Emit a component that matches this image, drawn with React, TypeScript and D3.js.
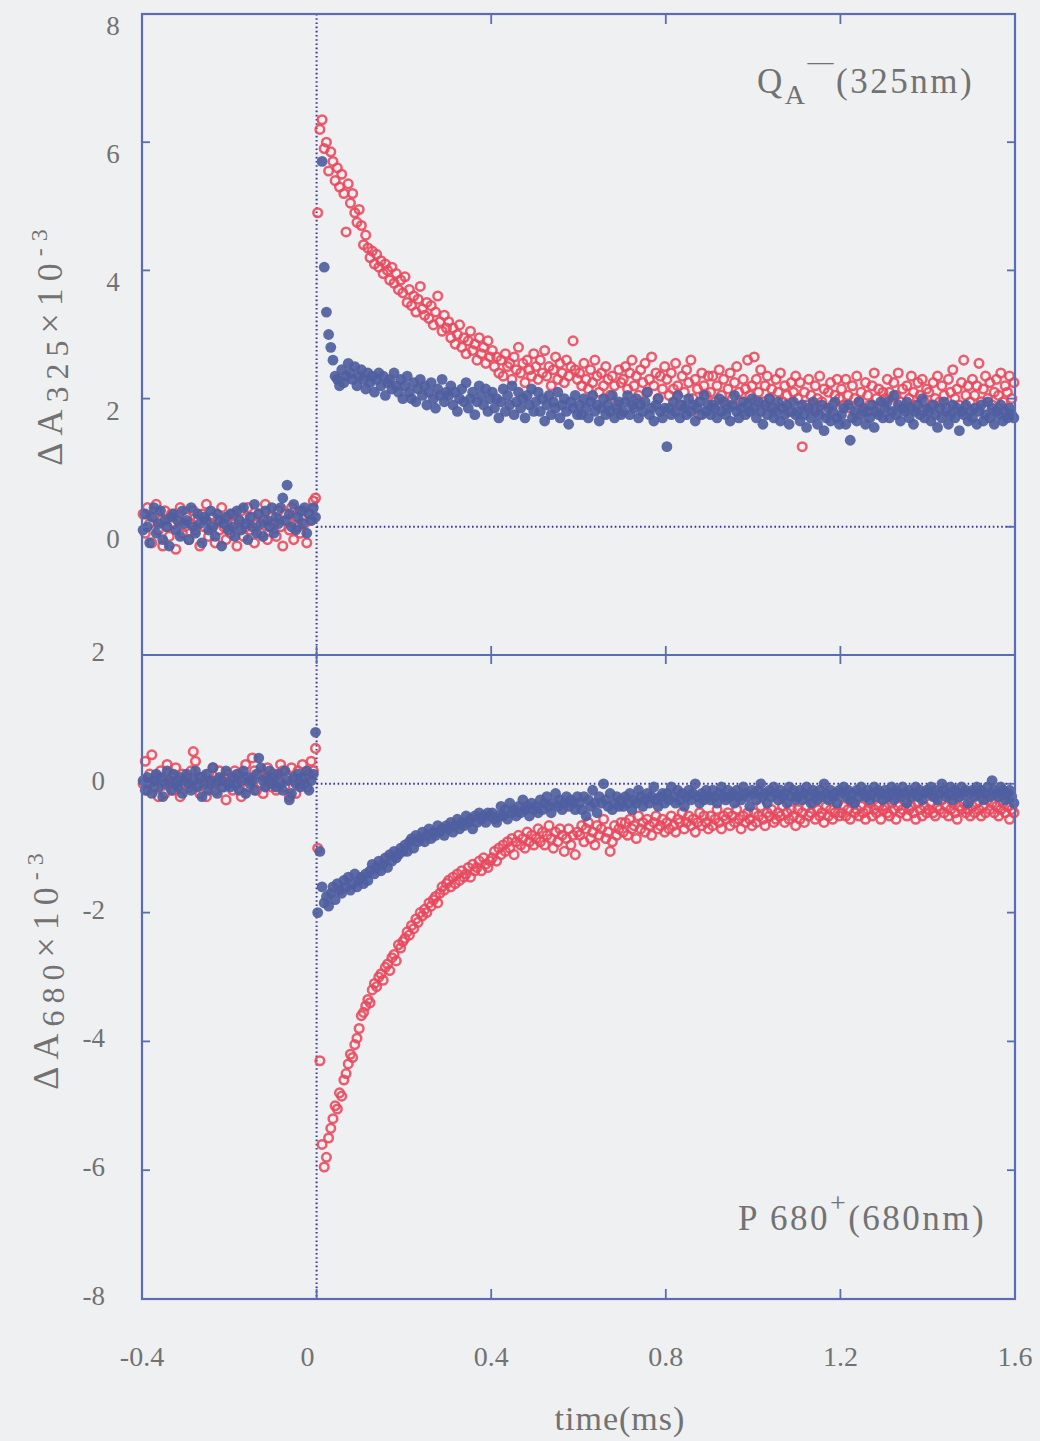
import React from "react";
import * as d3 from "d3";

// sampling time base (ms): 400 samples, 0.005 ms apart, from -0.3975 to 1.5975
const T_START = -0.3975;
const T_STEP = 0.005;
const N_SAMPLES = 400;

// Top panel: Q_A^- (325 nm), red open circles (rows of 0.1 ms)
const top325Red = [
  0.2, -0.1, 0.3, 0.05, -0.25, 0.15, 0.35, -0.05, 0.1, -0.3, 0.25, 0.0, -0.15, 0.2, 0.05, -0.35, 0.1, 0.3, -0.1, 0.0,
  0.15, -0.2, 0.05, 0.25, -0.05, 0.1, -0.3, 0.2, 0.0, 0.35, -0.15, 0.05, 0.15, -0.25, 0.1, -0.05, 0.3, 0.0, -0.2, 0.15,
  -0.1, 0.2, 0.05, -0.3, 0.1, 0.25, -0.15, 0.0, 0.3, -0.05, 0.15, -0.25, 0.05, 0.2, -0.1, 0.1, 0.35, -0.2, 0.0, 0.15,
  0.05, -0.15, 0.25, 0.0, -0.3, 0.2, 0.1, -0.05, 0.3, -0.2, 0.15, 0.0, -0.1, 0.25, 0.05, -0.25, 0.2, 0.1, 0.4, 0.45,
  4.9, 6.2, 6.35, 5.9, 6.0, 5.55, 5.85, 5.7, 5.4, 5.6, 5.3, 5.5, 5.2, 4.6, 5.35, 5.05, 5.2, 4.9, 4.75, 4.95,
  4.7, 4.4, 4.55, 4.35, 4.2, 4.3, 4.1, 4.25, 4.05, 4.15, 3.95, 4.1, 4.0, 3.85, 4.05, 3.8, 3.95, 3.7, 3.85, 3.65,
  3.9, 3.5, 3.7, 3.45, 3.6, 3.35, 3.55, 3.75, 3.4, 3.3, 3.5, 3.25, 3.45, 3.15, 3.35, 3.6, 3.2, 3.05, 3.3, 3.1,
  3.2, 2.95, 3.1, 2.85, 3.0, 3.15, 2.8, 2.95, 2.7, 2.9, 3.05, 2.75, 2.85, 2.6, 2.95, 2.7, 2.8, 2.55, 2.9, 2.65,
  2.75, 2.5, 2.65, 2.4, 2.6, 2.35, 2.7, 2.5, 2.55, 2.3, 2.65, 2.45, 2.8, 2.4, 2.55, 2.25, 2.6, 2.45, 2.35, 2.7,
  2.5, 2.3, 2.6, 2.4, 2.75, 2.35, 2.5, 2.2, 2.45, 2.65, 2.3, 2.55, 2.4, 2.25, 2.6, 2.35, 2.5, 2.9, 2.45, 2.3,
  2.4, 2.2, 2.55, 2.3, 2.15, 2.45, 2.25, 2.6, 2.35, 2.1, 2.4, 2.2, 2.5, 2.3, 2.05, 2.35, 2.2, 1.9, 2.45, 2.25,
  2.3, 2.5, 2.15, 2.4, 2.6, 2.2, 2.35, 2.05, 2.45, 2.25, 2.55, 2.1, 2.3, 2.65, 2.2, 2.4, 2.0, 2.35, 2.15, 2.5,
  2.3, 2.05, 2.4, 2.15, 2.55, 2.2, 1.9, 2.35, 2.1, 2.45, 2.25, 2.6, 2.0, 2.3, 2.15, 1.75, 2.4, 2.2, 2.05, 2.35,
  2.1, 2.35, 1.95, 2.2, 2.45, 2.05, 2.3, 1.9, 2.15, 2.4, 2.0, 2.25, 2.5, 2.1, 1.95, 2.3, 2.15, 2.6, 2.05, 2.2,
  2.65, 2.3, 2.1, 2.45, 1.95, 2.2, 2.35, 2.0, 2.15, 1.85, 2.3, 2.1, 2.4, 1.95, 2.2, 2.05, 1.8, 2.25, 2.1, 2.35,
  2.0, 2.25, 1.25, 2.1, 1.9, 2.3, 2.05, 1.85, 2.2, 2.0, 2.35, 1.95, 2.15, 1.8, 2.1, 2.25, 1.9, 2.05, 2.3, 2.0,
  2.15, 1.9, 2.3, 2.05, 1.85, 2.2, 2.0, 2.35, 1.95, 2.1, 1.8, 2.25, 2.05, 1.9, 2.2, 2.4, 2.0, 2.15, 1.85, 2.1,
  2.0, 2.3, 2.1, 1.9, 2.25, 2.05, 2.4, 1.95, 2.15, 1.85, 2.2, 2.0, 2.35, 2.1, 1.9, 2.25, 2.05, 2.3, 1.95, 2.15,
  2.1, 1.9, 2.25, 2.0, 2.35, 1.95, 2.2, 2.05, 1.85, 2.3, 2.1, 2.45, 2.0, 2.15, 1.9, 2.25, 2.6, 2.05, 2.2, 1.95,
  2.3, 2.05, 2.2, 2.55, 1.95, 2.15, 2.35, 2.0, 2.25, 1.9, 2.1, 2.3, 2.05, 2.4, 1.95, 2.2, 2.1, 2.35, 2.0, 2.25,
];

// Top panel: blue filled circles (null = no sample)
const top325Blue: (number | null)[] = [
  -0.05, 0.2, 0.0, -0.25, 0.15, 0.3, -0.1, 0.05, 0.25, -0.2, 0.1, 0.0, -0.3, 0.15, 0.2, -0.05, 0.1, -0.15, 0.25, 0.05,
  0.1, -0.2, 0.3, 0.0, -0.1, 0.2, 0.05, -0.25, 0.15, 0.1, -0.05, 0.25, 0.0, -0.15, 0.2, 0.1, -0.3, 0.05, 0.15, -0.05,
  0.2, 0.0, -0.15, 0.25, 0.1, -0.05, 0.3, 0.05, -0.2, 0.15, 0.0, 0.35, -0.1, 0.2, 0.05, -0.15, 0.25, 0.1, 0.0, 0.3,
  -0.1, 0.15, 0.05, 0.3, 0.45, 0.1, 0.65, 0.2, 0.0, 0.35, -0.05, 0.15, 0.25, 0.05, 0.3, -0.1, 0.2, 0.1, 0.3, 0.15,
  null, null, 5.7, 4.05, 3.35, 3.0, 2.8, 2.6, 2.35, 2.3, 2.2, 2.45, 2.25, 2.35, 2.55, 2.4, 2.3, 2.5, 2.2, 2.35,
  2.45, 2.3, 2.15, 2.4, 2.25, 2.35, 2.1, 2.3, 2.4, 2.2, 2.35, 2.05, 2.25, 2.3, 2.15, 2.4, 2.2, 2.1, 2.3, 2.0,
  2.2, 2.35, 2.1, 2.0, 2.25, 1.95, 2.15, 2.3, 2.05, 2.2, 1.9, 2.1, 2.25, 2.0, 1.85, 2.15, 2.05, 2.3, 1.95, 2.1,
  2.05, 2.2, 1.9, 2.1, 1.8, 2.0, 2.15, 1.95, 2.25, 1.85, 2.0, 2.1, 1.75, 1.95, 2.2, 2.05, 1.9, 2.15, 1.8, 2.0,
  2.1, 1.85, 2.0, 1.7, 1.95, 2.15, 1.8, 2.05, 1.9, 2.2, 1.75, 1.95, 2.1, 1.85, 2.0, 1.7, 2.05, 1.9, 2.15, 1.8,
  1.95, 2.1, 1.8, 2.0, 1.65, 1.9, 2.05, 1.75, 1.95, 1.85, 2.1, 1.7, 1.9, 2.0, 1.8, 1.6, 1.95, 1.85, 2.05, 1.75,
  1.9, 1.75, 2.0, 1.85, 1.7, 1.95, 2.05, 1.8, 1.9, 1.65, 1.85, 2.0, 1.75, 1.9, 1.8, 2.05, 1.7, 1.85, 1.95, 1.75,
  1.8, 1.95, 2.05, 1.75, 1.9, 1.85, 2.0, 1.7, 1.9, 1.8, 1.95, 2.1, 1.75, 1.85, 1.65, 1.9, 2.0, 1.8, 1.7, 1.85,
  1.25, 1.85, 1.75, 1.95, 1.8, 2.05, 1.7, 1.9, 1.85, 1.75, 2.0, 1.8, 1.9, 1.65, 1.85, 1.95, 1.75, 2.05, 1.8, 1.9,
  1.75, 1.9, 1.85, 1.7, 2.0, 1.8, 1.95, 1.75, 1.85, 1.65, 1.9, 2.05, 1.8, 1.7, 1.85, 1.95, 1.75, 1.9, 1.8, 2.0,
  1.85, 1.7, 1.95, 1.8, 1.6, 1.9, 1.75, 2.0, 1.85, 1.7, 1.8, 1.95, 1.65, 1.85, 1.75, 1.9, 1.6, 1.8, 1.95, 1.75,
  1.8, 1.65, 1.9, 1.75, 1.55, 1.85, 1.7, 1.95, 1.8, 1.6, 1.75, 1.9, 1.5, 1.7, 1.85, 1.65, 1.8, 1.95, 1.7, 1.6,
  1.75, 1.85, 1.6, 1.9, 1.35, 1.7, 1.8, 1.65, 1.95, 1.75, 1.85, 1.6, 1.8, 1.7, 1.9, 1.55, 1.8, 1.75, 1.95, 1.7,
  1.85, 1.95, 1.7, 1.8, 2.05, 1.75, 1.9, 1.65, 1.85, 1.8, 1.95, 1.7, 1.85, 1.6, 1.8, 1.9, 1.75, 2.0, 1.7, 1.85,
  1.8, 1.65, 1.9, 1.75, 1.55, 1.85, 1.7, 1.95, 1.8, 1.6, 1.75, 1.9, 1.7, 1.85, 1.5, 1.8, 1.75, 1.9, 1.65, 1.8,
  1.7, 1.85, 1.6, 1.8, 1.9, 1.65, 1.75, 1.95, 1.7, 1.85, 1.6, 1.8, 1.75, 1.9, 1.65, 1.8, 1.7, 1.85, 1.75, 1.7,
];

// Bottom panel: P680+ (680 nm), red open circles
const bot680Red = [
  0.0, 0.35, -0.1, 0.15, 0.45, -0.05, 0.1, -0.2, 0.2, 0.05, -0.15, 0.3, 0.0, 0.1, -0.1, 0.25, 0.05, -0.2, 0.15, 0.0,
  0.1, -0.05, 0.2, 0.5, 0.35, 0.0, -0.15, 0.1, 0.05, -0.2, 0.15, 0.0, 0.25, -0.1, 0.05, 0.2, -0.05, 0.1, -0.25, 0.15,
  0.05, -0.1, 0.2, 0.0, 0.15, -0.2, 0.1, 0.3, -0.05, 0.05, 0.4, 0.2, -0.1, 0.15, 0.0, -0.15, 0.1, 0.25, 0.05, -0.05,
  0.15, -0.1, 0.05, 0.3, 0.2, -0.05, 0.1, -0.2, 0.25, 0.05, -0.15, 0.2, 0.0, 0.3, 0.1, -0.05, 0.15, 0.35, 0.2, 0.55,
  -1.0, -4.3, -5.6, -5.95, -5.8, -5.5, -5.35, -5.2, -5.0, -5.05, -4.8, -4.85, -4.6, -4.5, -4.35, -4.2, -4.25, -4.05, -3.95, -3.8,
  -3.6, -3.55, -3.45, -3.35, -3.4, -3.2, -3.1, -3.15, -3.0, -2.95, -3.05, -2.85, -2.8, -2.9, -2.7, -2.65, -2.75, -2.5, -2.55, -2.45,
  -2.4, -2.3, -2.35, -2.2, -2.25, -2.1, -2.15, -2.0, -2.05, -1.95, -2.0, -1.85, -1.9, -1.8, -1.75, -1.85, -1.7, -1.6, -1.65, -1.55,
  -1.5, -1.6, -1.45, -1.55, -1.4, -1.5, -1.35, -1.45, -1.4, -1.3, -1.45, -1.25, -1.35, -1.3, -1.2, -1.35, -1.15, -1.25, -1.3, -1.2,
  -1.15, -1.05, -1.2, -1.0, -1.1, -0.95, -1.05, -0.9, -1.0, -0.85, -1.1, -0.9, -0.8, -0.95, -0.85, -1.0, -0.75, -0.9, -0.8, -0.95,
  -0.85, -0.7, -0.9, -0.75, -0.95, -0.8, -0.65, -0.85, -1.0, -0.75, -0.9, -0.7, -0.8, -1.05, -0.85, -0.7, -0.95, -0.8, -1.1, -0.75,
  -0.8, -0.65, -0.9, -0.7, -0.6, -0.85, -0.75, -0.95, -0.65, -0.8, -0.7, -0.55, -0.85, -0.75, -1.05, -0.9, -0.65, -0.8, -0.7, -0.6,
  -0.75, -0.6, -0.8, -0.55, -0.7, -0.65, -0.85, -0.5, -0.7, -0.6, -0.75, -0.55, -0.65, -0.8, -0.6, -0.5, -0.7, -0.65, -0.55, -0.75,
  -0.6, -0.7, -0.5, -0.65, -0.75, -0.55, -0.6, -0.45, -0.7, -0.6, -0.5, -0.65, -0.55, -0.75, -0.6, -0.45, -0.65, -0.5, -0.6, -0.7,
  -0.5, -0.65, -0.55, -0.4, -0.6, -0.7, -0.5, -0.55, -0.45, -0.65, -0.5, -0.6, -0.4, -0.55, -0.7, -0.5, -0.6, -0.45, -0.55, -0.65,
  -0.45, -0.6, -0.5, -0.35, -0.55, -0.65, -0.45, -0.5, -0.4, -0.6, -0.55, -0.45, -0.5, -0.35, -0.6, -0.45, -0.55, -0.4, -0.5, -0.65,
  -0.4, -0.55, -0.45, -0.6, -0.35, -0.5, -0.45, -0.3, -0.55, -0.4, -0.5, -0.45, -0.6, -0.35, -0.5, -0.4, -0.55, -0.45, -0.3, -0.5,
  -0.45, -0.35, -0.5, -0.4, -0.55, -0.3, -0.45, -0.4, -0.5, -0.35, -0.45, -0.55, -0.4, -0.3, -0.5, -0.4, -0.45, -0.35, -0.55, -0.4,
  -0.35, -0.45, -0.5, -0.3, -0.4, -0.55, -0.35, -0.45, -0.4, -0.25, -0.5, -0.4, -0.35, -0.45, -0.55, -0.3, -0.4, -0.5, -0.35, -0.45,
  -0.4, -0.3, -0.45, -0.5, -0.35, -0.4, -0.25, -0.45, -0.35, -0.5, -0.4, -0.3, -0.45, -0.55, -0.35, -0.4, -0.3, -0.45, -0.4, -0.5,
  -0.35, -0.45, -0.3, -0.4, -0.5, -0.35, -0.45, -0.25, -0.4, -0.3, -0.45, -0.35, -0.5, -0.4, -0.3, -0.45, -0.35, -0.55, -0.4, -0.45,
];

// Bottom panel: blue filled circles
const bot680Blue = [
  0.05, -0.1, 0.1, 0.0, -0.15, 0.05, 0.15, -0.05, 0.1, -0.2, 0.0, 0.2, 0.05, -0.1, 0.15, 0.0, -0.05, 0.1, -0.15, 0.05,
  0.15, 0.0, -0.1, 0.05, 0.2, -0.05, 0.1, -0.2, 0.0, 0.15, -0.1, 0.05, 0.25, 0.0, -0.15, 0.1, 0.05, -0.05, 0.2, 0.0,
  -0.05, 0.1, 0.0, 0.15, -0.1, 0.05, 0.2, -0.15, 0.1, 0.0, 0.05, -0.1, 0.15, 0.4, 0.25, 0.05, -0.05, 0.1, 0.2, 0.0,
  0.1, -0.05, 0.15, 0.0, -0.1, 0.2, 0.05, -0.25, -0.15, 0.1, 0.0, 0.15, -0.05, 0.1, 0.0, 0.2, -0.1, 0.05, 0.15, 0.8,
  -2.0, -1.05, -1.6, -1.85, -1.75, -1.9, -1.7, -1.6, -1.8, -1.55, -1.65, -1.7, -1.5, -1.6, -1.45, -1.65, -1.55, -1.4, -1.6, -1.5,
  -1.45, -1.55, -1.4, -1.5, -1.35, -1.25, -1.4, -1.3, -1.2, -1.35, -1.25, -1.15, -1.3, -1.1, -1.2, -1.05, -1.15, -1.1, -1.0, -1.05,
  -0.95, -1.05, -0.9, -0.85, -1.0, -0.8, -0.9, -0.85, -0.75, -0.9, -0.8, -0.7, -0.85, -0.75, -0.8, -0.65, -0.75, -0.7, -0.8, -0.65,
  -0.7, -0.6, -0.75, -0.65, -0.55, -0.7, -0.6, -0.65, -0.5, -0.6, -0.55, -0.7, -0.5, -0.6, -0.45, -0.55, -0.5, -0.6, -0.45, -0.5,
  -0.45, -0.55, -0.6, -0.5, -0.35, -0.5, -0.4, -0.55, -0.3, -0.45, -0.4, -0.5, -0.35, -0.45, -0.25, -0.4, -0.35, -0.5, -0.3, -0.4,
  -0.35, -0.45, -0.25, -0.4, -0.3, -0.2, -0.35, -0.45, -0.3, -0.15, -0.35, -0.25, -0.4, -0.3, -0.2, -0.35, -0.25, -0.3, -0.4, -0.2,
  -0.3, -0.4, -0.2, -0.5, -0.25, -0.35, -0.1, -0.3, -0.45, -0.2, -0.3, 0.0, -0.25, -0.35, -0.15, -0.4, -0.3, -0.2, -0.35, -0.25,
  -0.35, -0.2, -0.3, -0.15, -0.4, -0.25, -0.3, -0.1, -0.2, -0.35, -0.25, -0.15, -0.3, -0.2, -0.05, -0.25, -0.35, -0.2, -0.15, -0.3,
  -0.15, -0.25, -0.05, -0.2, -0.3, -0.1, -0.25, -0.15, -0.35, -0.2, -0.1, -0.25, -0.15, 0.0, -0.2, -0.3, -0.15, -0.25, -0.1, -0.2,
  -0.25, -0.1, -0.2, -0.3, -0.15, -0.05, -0.2, -0.25, -0.1, -0.2, -0.15, -0.3, -0.1, -0.2, -0.25, -0.05, -0.15, -0.2, -0.35, -0.1,
  -0.15, -0.25, -0.1, 0.0, -0.2, -0.15, -0.3, -0.1, -0.2, -0.05, -0.15, -0.25, -0.1, -0.2, -0.15, -0.3, -0.05, -0.2, -0.1, -0.25,
  -0.2, -0.1, -0.25, -0.15, -0.05, -0.2, -0.3, -0.1, -0.15, -0.25, -0.1, -0.2, 0.0, -0.15, -0.25, -0.1, -0.2, -0.15, -0.3, -0.1,
  -0.15, -0.05, -0.2, -0.1, -0.25, -0.15, -0.3, -0.1, -0.2, -0.05, -0.15, -0.2, -0.1, -0.25, -0.15, -0.05, -0.2, -0.1, -0.15, -0.25,
  -0.1, -0.2, -0.15, -0.05, -0.25, -0.1, -0.15, -0.2, -0.05, -0.15, -0.3, -0.1, -0.2, -0.15, -0.05, -0.2, -0.1, -0.25, -0.15, -0.1,
  -0.15, -0.05, -0.2, -0.1, -0.25, -0.15, 0.0, -0.1, -0.2, -0.15, -0.05, -0.25, -0.1, -0.15, -0.2, -0.05, -0.15, -0.1, -0.3, -0.15,
  -0.1, -0.2, -0.05, -0.15, -0.1, -0.25, -0.15, -0.05, -0.2, 0.05, -0.1, -0.15, -0.2, -0.05, -0.1, -0.25, -0.15, -0.1, -0.2, -0.3,
];

const xTickValues = [-0.4, 0, 0.4, 0.8, 1.2, 1.6];
const xTickLabels = ["-0.4", "0", "0.4", "0.8", "1.2", "1.6"];
const topYTicks = [8, 6, 4, 2, 0];
const botYTicks = [2, 0, -2, -4, -6, -8];

const W = 1040;
const H = 1441;
const FRAME = "#5a6cb2";
const DOT = "#3b3596";
const RED = "#e8485c";
const BLUE = "#4f5e9f";
const TXT = "#727272";
const SERIF = "'Liberation Serif', 'DejaVu Serif', serif";

export default function App() {
  const x = d3.scaleLinear().domain([-0.4, 1.6]).range([142, 1015]);
  const yT = d3.scaleLinear().domain([-2, 8]).range([655, 14]);
  const yB = d3.scaleLinear().domain([-8, 2]).range([1299, 655]);
  const times = d3.range(N_SAMPLES).map((i) => T_START + i * T_STEP);

  const left = x(-0.4);
  const right = x(1.6);
  const top = yT(8);
  const mid = yT(-2);
  const bottom = yB(-8);

  const inner = [0.4, 0.8, 1.2];

  const redPts = (vals: (number | null)[], ys: d3.ScaleLinear<number, number>) =>
    vals.map((v, i) =>
      v == null || i >= times.length ? null : (
        <circle key={"r" + i} cx={x(times[i])} cy={ys(v)} r={4.3} fill="none" stroke={RED} strokeWidth={2.5} opacity={0.88} />
      )
    );
  const bluePts = (vals: (number | null)[], ys: d3.ScaleLinear<number, number>) =>
    vals.map((v, i) =>
      v == null || i >= times.length ? null : (
        <circle key={"b" + i} cx={x(times[i])} cy={ys(v)} r={5.4} fill={BLUE} opacity={0.92} />
      )
    );

  return (
    <svg width={W} height={H} style={{ position: "absolute", left: 0, top: 0 }} fontFamily={SERIF}>
      <rect x={0} y={0} width={W} height={H} fill="#eff0f2" />

      {/* dotted reference lines */}
      <line x1={x(0)} x2={x(0)} y1={top} y2={bottom} stroke={DOT} strokeWidth={2} strokeDasharray="1.6,2.6" />
      <line x1={x(0)} x2={right} y1={yT(0)} y2={yT(0)} stroke={DOT} strokeWidth={2} strokeDasharray="1.6,2.6" />
      <line x1={x(0)} x2={right} y1={yB(0)} y2={yB(0)} stroke={DOT} strokeWidth={2} strokeDasharray="1.6,2.6" />

      {/* data */}
      <g>{redPts(top325Red, yT)}</g>
      <g>{bluePts(top325Blue, yT)}</g>
      <g>{redPts(bot680Red, yB)}</g>
      <g>{bluePts(bot680Blue, yB)}</g>

      {/* frame */}
      <rect x={left} y={top} width={right - left} height={bottom - top} fill="none" stroke={FRAME} strokeWidth={2.2} />
      <line x1={left} x2={right} y1={mid} y2={mid} stroke={FRAME} strokeWidth={2.2} />

      {/* x ticks */}
      {inner.map((v) => (
        <g key={"xt" + v} stroke={FRAME} strokeWidth={1.8}>
          <line x1={x(v)} x2={x(v)} y1={top} y2={top + 10} />
          <line x1={x(v)} x2={x(v)} y1={mid - 9} y2={mid + 9} />
          <line x1={x(v)} x2={x(v)} y1={bottom} y2={bottom - 10} />
        </g>
      ))}
      <line x1={x(0)} x2={x(0)} y1={mid - 9} y2={mid + 9} stroke={FRAME} strokeWidth={1.8} />
      <line x1={x(0)} x2={x(0)} y1={bottom} y2={bottom - 10} stroke={FRAME} strokeWidth={1.8} />

      {/* y ticks */}
      {topYTicks.slice(1).map((v) => (
        <g key={"yt" + v} stroke={FRAME} strokeWidth={1.8}>
          <line x1={left} x2={left + 8} y1={yT(v)} y2={yT(v)} />
          <line x1={right} x2={right - 8} y1={yT(v)} y2={yT(v)} />
        </g>
      ))}
      {botYTicks.slice(1, -1).map((v) => (
        <g key={"yb" + v} stroke={FRAME} strokeWidth={1.8}>
          <line x1={left} x2={left + 8} y1={yB(v)} y2={yB(v)} />
          <line x1={right} x2={right - 8} y1={yB(v)} y2={yB(v)} />
        </g>
      ))}

      {/* y tick labels */}
      {topYTicks.map((v) => (
        <text key={"tl" + v} x={113} y={yT(v) + 12} fill={TXT} fontSize={27} textAnchor="middle" dominantBaseline="central">
          {String(v)}
        </text>
      ))}
      {botYTicks.map((v) => (
        <text key={"bl" + v} x={105} y={yB(v) - 3} fill={TXT} fontSize={27} textAnchor="end" dominantBaseline="central">
          {String(v)}
        </text>
      ))}

      {/* x tick labels */}
      {xTickValues.map((v, i) => (
        <text key={"xl" + v} x={x(v) + (v === 0 ? -9 : 0)} y={1366} fill={TXT} fontSize={28} textAnchor="middle">
          {xTickLabels[i]}
        </text>
      ))}
      <text x={620} y={1430} fill={TXT} fontSize={34} textAnchor="middle" letterSpacing={1}>time(ms)</text>

      {/* y axis titles */}
      <text transform="translate(62,344) rotate(-90)" fill={TXT} fontSize={36} textAnchor="middle" letterSpacing={7}>
        <tspan>ΔA</tspan>
        <tspan dy={6} fontSize={32}>325</tspan>
        <tspan dy={-6}>×10</tspan>
        <tspan dy={-15} fontSize={24}>-3</tspan>
      </text>
      <text transform="translate(58,968) rotate(-90)" fill={TXT} fontSize={36} textAnchor="middle" letterSpacing={7}>
        <tspan>ΔA</tspan>
        <tspan dy={6} fontSize={32}>680</tspan>
        <tspan dy={-6}>×10</tspan>
        <tspan dy={-15} fontSize={24}>-3</tspan>
      </text>

      {/* annotations */}
      <text x={757} y={93} fill={TXT} fontSize={35} letterSpacing={2.5}>
        Q<tspan dy={11} fontSize={28}>A</tspan>
        <tspan dy={-34} fontSize={26}>—</tspan>
        <tspan dy={23} fontSize={35}>(325nm)</tspan>
      </text>
      <text x={738} y={1230} fill={TXT} fontSize={35} letterSpacing={2.5}>
        P 680<tspan dy={-18} fontSize={28}>+</tspan>
        <tspan dy={18}>(680nm)</tspan>
      </text>
    </svg>
  );
}
